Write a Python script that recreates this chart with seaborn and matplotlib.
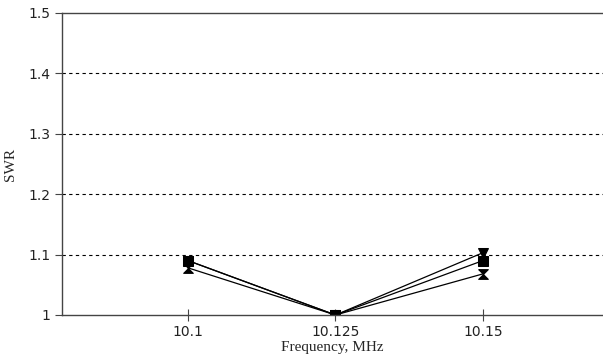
import matplotlib
matplotlib.use("Agg")
import matplotlib.pyplot as plt
import seaborn as sns
import pandas as pd

sns.set_theme(style="white")

# data
freq = [10.1, 10.125, 10.15]
freq_labels = ["10.1", "10.125", "10.15"]
swr_a = [1.09, 1.0, 1.103]   # inverted triangles
swr_b = [1.09, 1.0, 1.09]    # squares
swr_c = [1.078, 1.0, 1.068]  # hourglass
y_ticks = [1, 1.1, 1.2, 1.3, 1.4, 1.5]
y_labels = ["1", "1.1", "1.2", "1.3", "1.4", "1.5"]

df = pd.DataFrame({
    "freq": freq * 3,
    "swr": swr_a + swr_b + swr_c,
    "series": ["a"] * 3 + ["b"] * 3 + ["c"] * 3,
})

hourglass = [(-1, 1), (1, 1), (-1, -1), (1, -1), (-1, 1)]

fig = plt.figure(figsize=(6.03, 3.64), dpi=100)
ax = fig.add_axes([62 / 603, 49 / 364, 541 / 603, 302 / 364])

sns.lineplot(data=df, x="freq", y="swr", hue="series", style="series",
             markers={"a": "v", "b": "s", "c": hourglass}, dashes=False,
             palette={"a": "black", "b": "black", "c": "black"},
             markersize=7, linewidth=0.9, markeredgecolor="black",
             legend=False, ax=ax)

ax.set_xlim(10.0786, 10.1704)
ax.set_ylim(1, 1.5)
ax.set_xticks(freq)
ax.set_xticklabels(freq_labels)
ax.set_yticks(y_ticks)
ax.set_yticklabels(y_labels)

for y in y_ticks[1:-1]:
    ax.axhline(y, color="black", linestyle=(0, (3, 3)), linewidth=0.8, zorder=0)

for side in ["right"]:
    ax.spines[side].set_visible(False)
for side in ["left", "bottom", "top"]:
    ax.spines[side].set_color("#444444")
    ax.spines[side].set_linewidth(1.0)

ax.tick_params(axis="y", direction="out", length=5, width=0.8, color="#444444",
               labelsize=10, labelcolor="#222222", left=True)
ax.tick_params(axis="x", direction="inout", length=8, width=0.8, color="#444444",
               labelsize=10, labelcolor="#222222", bottom=True)
for lab in ax.get_xticklabels() + ax.get_yticklabels():
    lab.set_family("DejaVu Sans")

ax.set_xlabel("Frequency, MHz", family="Liberation Serif", fontsize=11, labelpad=1)
ax.set_ylabel("SWR", family="Liberation Serif", fontsize=11, labelpad=8)

fig.savefig("out.png", dpi=100)
